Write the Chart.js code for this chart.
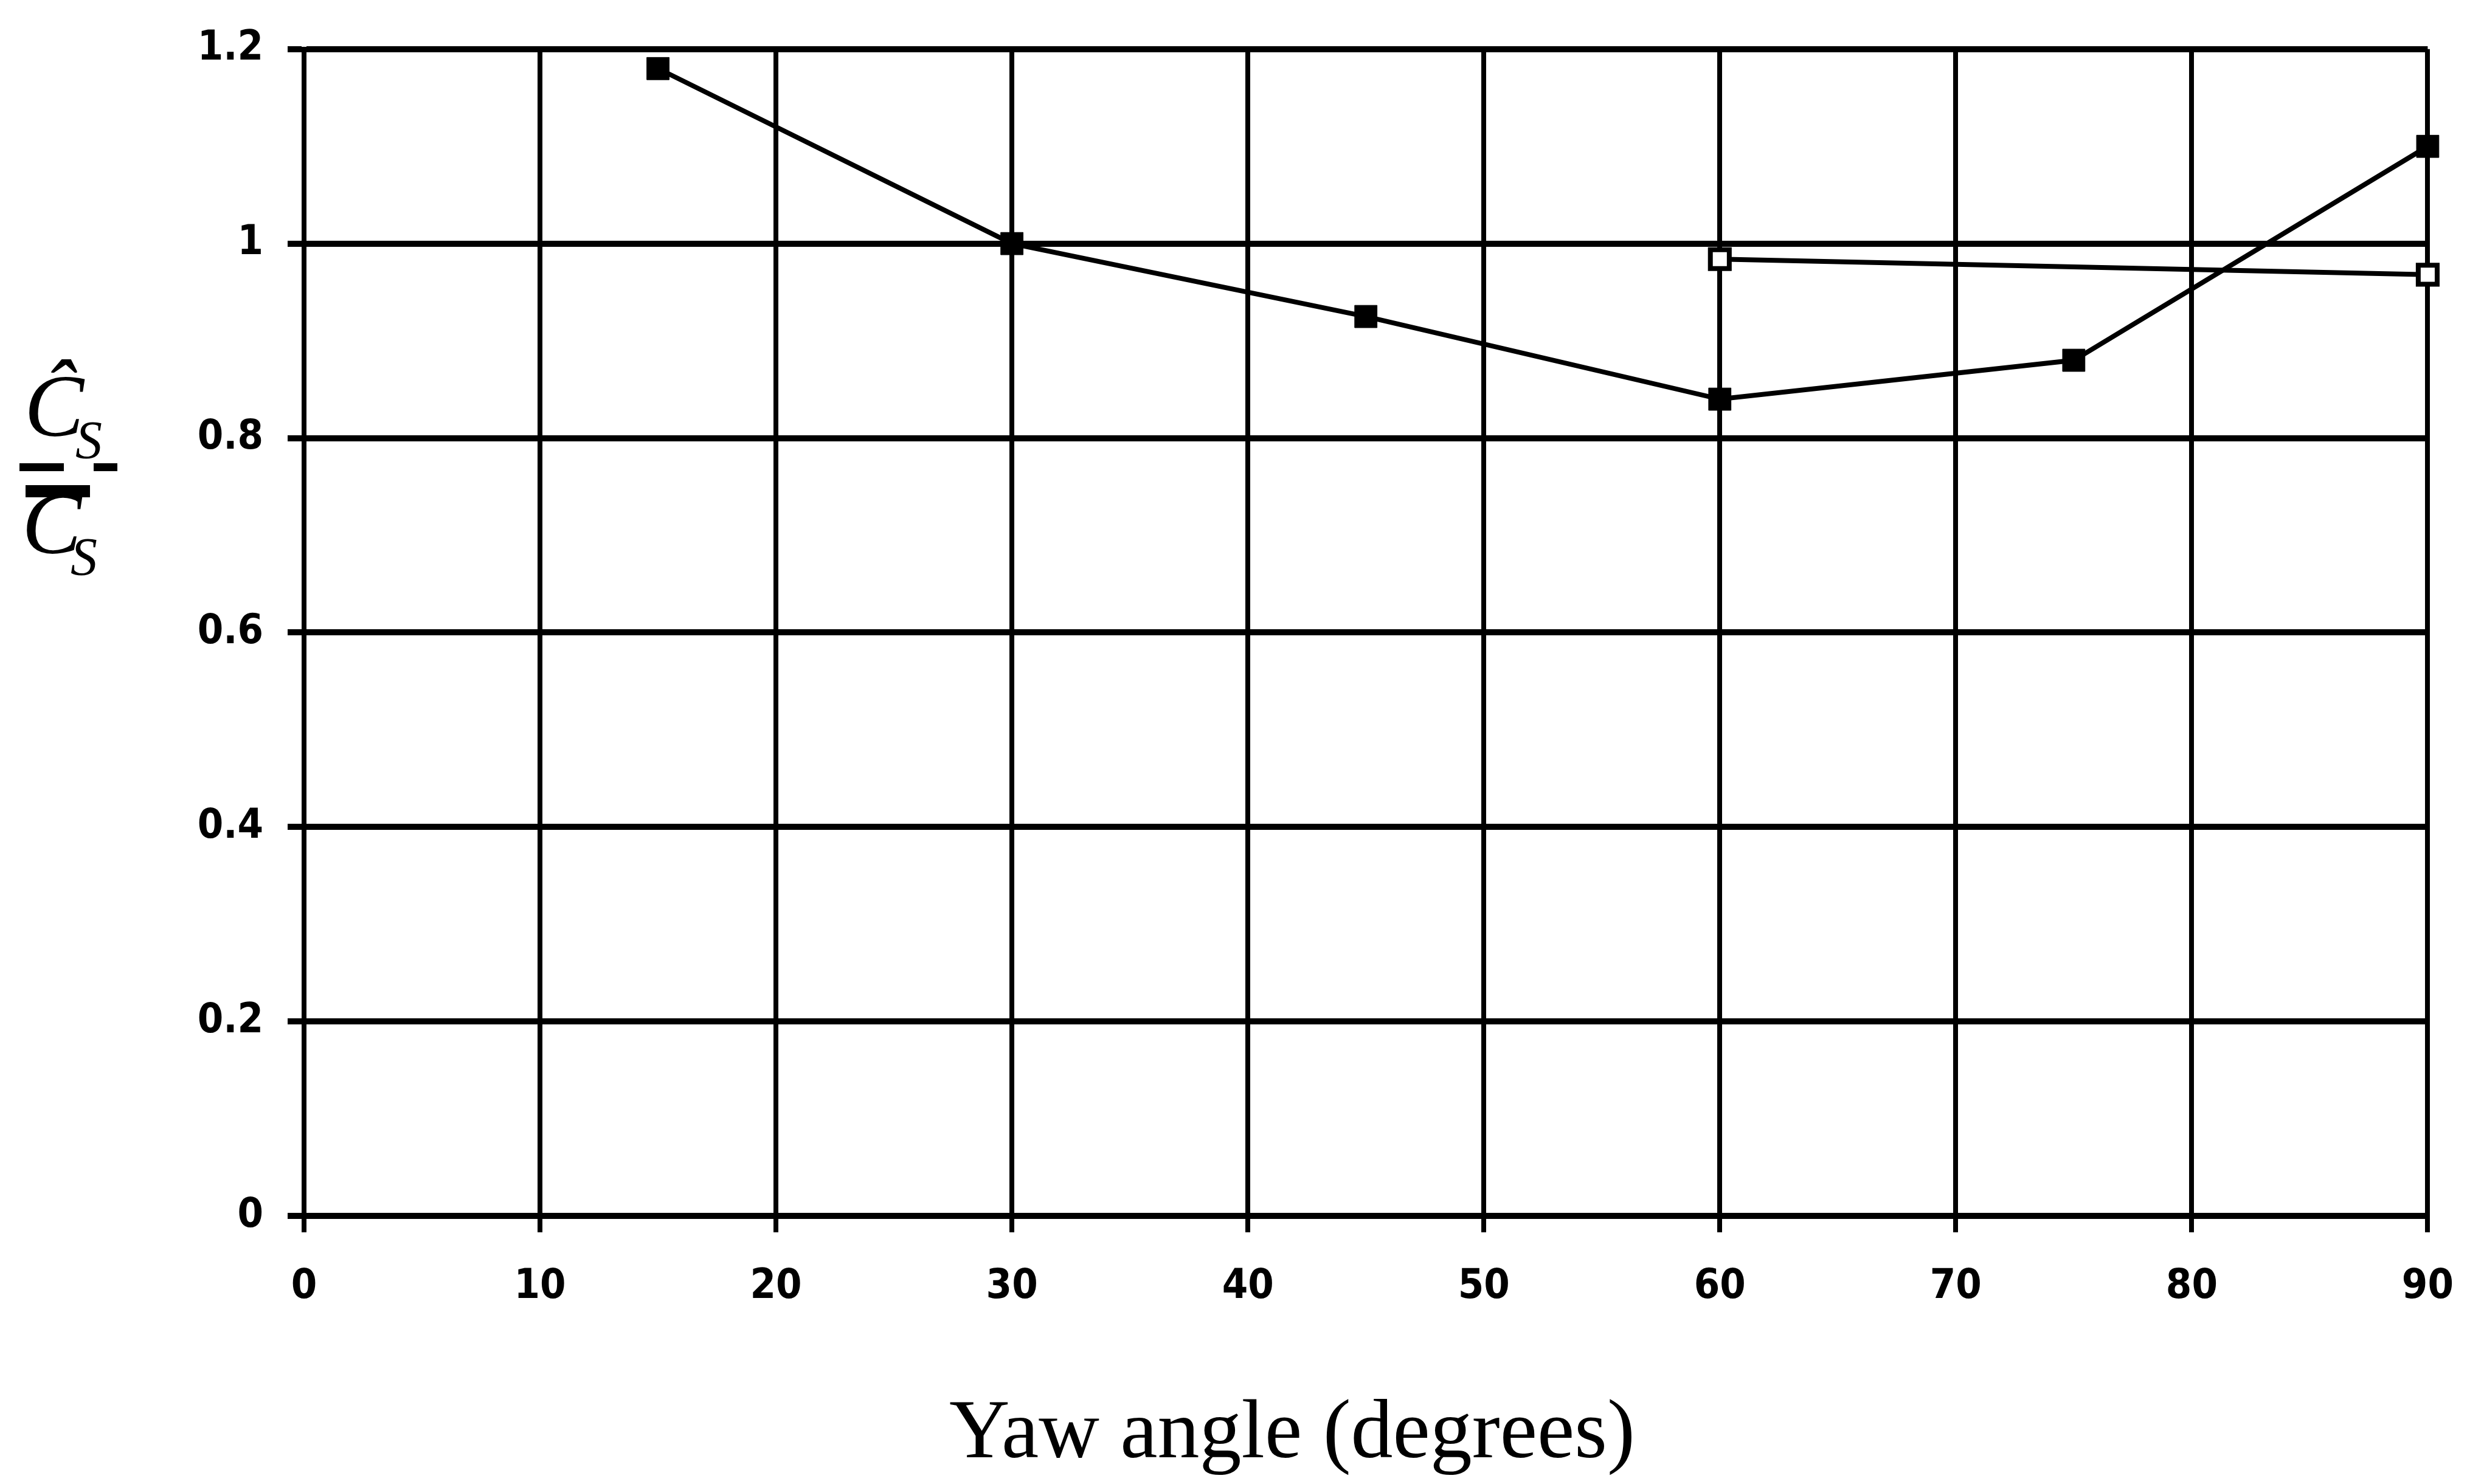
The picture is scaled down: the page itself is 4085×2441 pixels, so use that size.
<!DOCTYPE html>
<html>
<head>
<meta charset="utf-8">
<script src="https://cdn.jsdelivr.net/npm/chart.js@4.4.1/dist/chart.umd.min.js"></script>
<style>
    html, body { margin: 0; padding: 0; background: #fff; }
    canvas { display: block; }
</style>
</head>
<body>
<canvas id="yawChart" width="4085" height="2441"></canvas>
<script>
// Data
const yawFilled = [15, 30, 45, 60, 75, 90];
const ratioFilled = [1.18, 1.0, 0.925, 0.84, 0.88, 1.10];
const yawOpen = [60, 90];
const ratioOpen = [0.984, 0.968];

const xTitle = 'Yaw angle (degrees)';

const tickFont = {
    family: "'Liberation Sans Narrow', 'DejaVu Sans Condensed', 'Liberation Sans', sans-serif",
    size: 68,
    weight: 'bold'
};

// Titles drawn by hand: the y title is a horizontal fraction, the x title sits left of centre
const titlePlugin = {
    id: 'titles',
    afterDraw(chart) {
        const ctx = chart.ctx;
        ctx.save();
        ctx.fillStyle = '#000';
        ctx.textBaseline = 'alphabetic';

        ctx.font = "138px 'Liberation Serif', serif";
        ctx.textAlign = 'center';
        ctx.fillText(xTitle, 2125, 2397);

        // numerator
        ctx.textAlign = 'left';
        ctx.font = "italic 147px 'Liberation Serif', serif";
        ctx.fillText('\u0108', 40, 717);
        ctx.fillText('C', 36, 910);
        ctx.font = "italic 88px 'Liberation Serif', serif";
        ctx.fillText('S', 124, 753);
        ctx.fillText('S', 116, 945);

        // broken fraction rule and the bar over the lower C
        ctx.fillRect(32, 762, 73, 13);
        ctx.fillRect(154, 762, 39, 13);
        ctx.fillRect(42, 798, 106, 20);
        ctx.restore();
    }
};

new Chart(document.getElementById('yawChart').getContext('2d'), {
    type: 'scatter',
    data: {
        datasets: [
            {
                data: yawFilled.map((x, i) => ({ x: x, y: ratioFilled[i] })),
                showLine: true,
                clip: false,
                borderColor: '#000',
                borderWidth: 8,
                pointStyle: 'rect',
                pointRadius: 26,
                pointBackgroundColor: '#000',
                pointBorderColor: '#000',
                pointBorderWidth: 1
            },
            {
                data: yawOpen.map((x, i) => ({ x: x, y: ratioOpen[i] })),
                showLine: true,
                clip: false,
                borderColor: '#000',
                borderWidth: 8,
                pointStyle: 'rect',
                pointRadius: 22,
                pointBackgroundColor: '#fff',
                pointBorderColor: '#000',
                pointBorderWidth: 8
            }
        ]
    },
    options: {
        responsive: false,
        animation: false,
        devicePixelRatio: 1,
        layout: {
            padding: { top: 70, right: 71, left: 0, bottom: 0 }
        },
        plugins: {
            legend: { display: false },
            tooltip: { enabled: false }
        },
        scales: {
            x: {
                type: 'linear',
                min: 0,
                max: 90,
                afterFit: function(scale) { scale.height = 441; },
                border: { color: '#000', width: 9 },
                grid: {
                    color: '#000',
                    lineWidth: 8,
                    tickLength: 27
                },
                ticks: {
                    stepSize: 10,
                    color: '#000',
                    font: tickFont,
                    padding: 50,
                    maxRotation: 0
                }
            },
            y: {
                min: 0,
                max: 1.2,
                afterFit: function(scale) { scale.width = 500; },
                border: { color: '#000', width: 8 },
                grid: {
                    color: '#000',
                    lineWidth: 10,
                    tickLength: 27
                },
                ticks: {
                    stepSize: 0.2,
                    color: '#000',
                    font: tickFont,
                    padding: 40,
                    callback: function(value) {
                        return String(Number(value.toFixed(1)));
                    }
                }
            }
        }
    },
    plugins: [titlePlugin]
});
</script>
</body>
</html>
